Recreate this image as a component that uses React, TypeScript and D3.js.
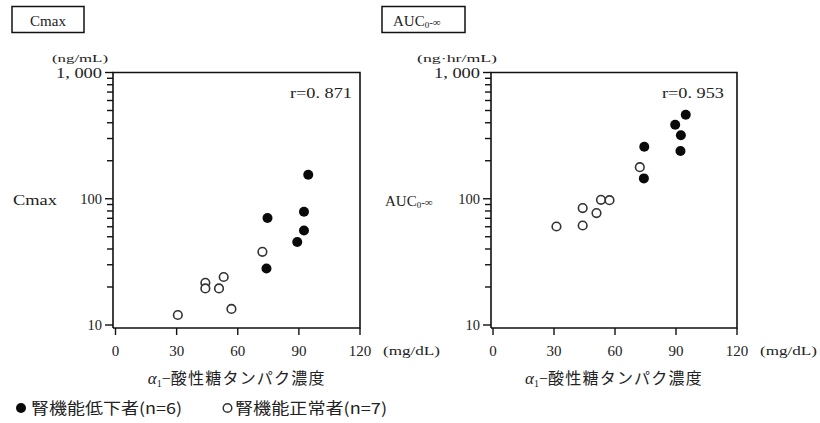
import React from "react";
import * as d3 from "d3";

// ---- data ----
const cmaxLowX = [94.6, 92.5, 74.6, 92.5, 89.2, 74.1];
const cmaxLowY = [155, 79, 70.5, 56, 45.5, 28];
const cmaxNormX = [72.1, 53.1, 44.1, 44.1, 50.8, 56.9, 30.6];
const cmaxNormY = [38, 24, 21.6, 19.5, 19.5, 13.4, 12];

const aucLowX = [94.8, 89.6, 92.4, 92.2, 74.4, 74.2];
const aucLowY = [463, 385, 318, 239, 258, 145];
const aucNormX = [72.2, 53.1, 57.3, 44.1, 50.9, 44.1, 31.2];
const aucNormY = [178, 98, 97.5, 84.4, 77, 61.4, 60.3];

const xTicks = [0, 30, 60, 90, 120];
const yMajorLabels: Record<number, string> = { 10: "10", 100: "100", 1000: "1, 000" };

const SERIF = "'Liberation Serif', 'DejaVu Serif', serif";
const CJK = "'Noto Sans CJK JP', sans-serif";
const INK = "#222";

type PanelProps = {
  axisX: number;
  x0: number;
  x1: number;
  lowX: number[];
  lowY: number[];
  normX: number[];
  normY: number[];
  r: string;
  rX: number;
  unit: string;
  unitX: number;
  unitW: number;
};

function Panel(p: PanelProps) {
  const top = 72.5;
  const bottomY = 325;
  const axisY = 328;
  const x = d3.scaleLinear().domain([0, 120]).range([p.x0, p.x1]);
  const y = d3.scaleLog().domain([10, 1000]).range([bottomY, top]);
  const yt = y.ticks();
  const right = p.x1;
  return (
    <g>
      {/* frame */}
      <path
        d={`M${p.axisX},${axisY} L${p.axisX},${top} L${right},${top} L${right},${axisY} L${p.axisX},${axisY}`}
        fill="none"
        stroke="#111"
        strokeWidth={1.6}
      />
      {/* y ticks */}
      {yt.map((t) => {
        const major = Math.abs(Math.log10(t) - Math.round(Math.log10(t))) < 1e-9;
        return (
          <line
            key={t}
            x1={p.axisX - (major ? 8 : 6)}
            x2={p.axisX}
            y1={y(t)}
            y2={y(t)}
            stroke="#111"
            strokeWidth={1.4}
          />
        );
      })}
      {yt
        .filter((t) => yMajorLabels[t])
        .map((t) => (
          <text
            key={"l" + t}
            x={p.axisX - 11}
            y={y(t) + 5}
            textAnchor="end"
            fontFamily={SERIF}
            fontSize={14.5}
            fill={INK}
            textLength={t === 1000 ? 46 : undefined}
            lengthAdjust="spacingAndGlyphs"
          >
            {yMajorLabels[t]}
          </text>
        ))}
      {/* x ticks */}
      {xTicks.map((t) => (
        <g key={"x" + t}>
          <line x1={x(t)} x2={x(t)} y1={axisY} y2={axisY + 7} stroke="#111" strokeWidth={1.4} />
          <text
            x={x(t)}
            y={356}
            textAnchor="middle"
            fontFamily={SERIF}
            fontSize={15}
            fill={INK}
          >
            {t}
          </text>
        </g>
      ))}
      <text
        x={p.x1 + 23}
        y={355}
        fontFamily={SERIF}
        fontSize={12}
        fill={INK}
        textLength={57}
        lengthAdjust="spacingAndGlyphs"
      >
        (mg/dL)
      </text>
      {/* unit */}
      <text
        x={p.unitX}
        y={62}
        fontFamily={SERIF}
        fontSize={11}
        fill={INK}
        textLength={p.unitW}
        lengthAdjust="spacingAndGlyphs"
      >
        {p.unit}
      </text>
      {/* r */}
      <text
        x={p.rX}
        y={98}
        fontFamily={SERIF}
        fontSize={15}
        fill={INK}
        textLength={62}
        lengthAdjust="spacingAndGlyphs"
      >
        {p.r}
      </text>
      {/* x title */}
      <text
        x={(p.x0 + p.x1) / 2 - 1}
        y={384}
        textAnchor="middle"
        fontFamily={CJK}
        fontSize={16}
        fill={INK}
      >
        <tspan fontFamily={SERIF} fontStyle="italic" fontSize={17}>α</tspan>
        <tspan fontFamily={SERIF} fontSize={10} dy={3}>1</tspan>
        <tspan fontFamily={SERIF} dy={-3}>−</tspan>
        <tspan letterSpacing={1.2}>酸性糖タンパク濃度</tspan>
      </text>
      {/* points */}
      {p.normX.map((v, i) => (
        <circle
          key={"n" + i}
          cx={x(v)}
          cy={y(p.normY[i])}
          r={4.3}
          fill="#fff"
          stroke="#333"
          strokeWidth={1.6}
        />
      ))}
      {p.lowX.map((v, i) => (
        <circle key={"f" + i} cx={x(v)} cy={y(p.lowY[i])} r={5} fill="#0a0a0a" />
      ))}
    </g>
  );
}

export default function App() {
  return (
    <svg
      width={820}
      height={423}
      style={{ position: "absolute", left: 0, top: 0, background: "#fff" }}
    >
      <rect x={0} y={0} width={820} height={423} fill="#fff" />
      {/* title boxes */}
      <rect x={12} y={6.5} width={72} height={26} fill="none" stroke="#111" strokeWidth={1.5} />
      <text x={48} y={26} textAnchor="middle" fontFamily={SERIF} fontSize={15} fill={INK}>
        Cmax
      </text>
      <rect x={382} y={6.5} width={83} height={26} fill="none" stroke="#111" strokeWidth={1.5} />
      <text x={393} y={26} fontFamily={SERIF} fontSize={15} fill={INK}>
        AUC<tspan fontSize={9} dy={2}>0</tspan>
        <tspan fontSize={11} dy={-2}>-∞</tspan>
      </text>

      {/* y titles */}
      <text
        x={13}
        y={205}
        fontFamily={SERIF}
        fontSize={15}
        fill={INK}
        textLength={44}
        lengthAdjust="spacingAndGlyphs"
      >
        Cmax
      </text>
      <text x={385} y={206} fontFamily={SERIF} fontSize={15} fill={INK}>
        AUC<tspan fontSize={9} dy={2}>0</tspan>
        <tspan fontSize={11} dy={-2}>-∞</tspan>
      </text>

      <Panel
        axisX={113}
        x0={115.5}
        x1={360}
        lowX={cmaxLowX}
        lowY={cmaxLowY}
        normX={cmaxNormX}
        normY={cmaxNormY}
        r="r=0. 871"
        rX={290}
        unit="(ng/mL)"
        unitX={52}
        unitW={56}
      />
      <Panel
        axisX={491}
        x0={493}
        x1={737}
        lowX={aucLowX}
        lowY={aucLowY}
        normX={aucNormX}
        normY={aucNormY}
        r="r=0. 953"
        rX={662}
        unit="(ng·hr/mL)"
        unitX={417}
        unitW={80}
      />

      {/* legend */}
      <circle cx={21} cy={408} r={5} fill="#0a0a0a" />
      <text
        x={31}
        y={413.5}
        fontFamily={CJK}
        fontSize={15.5}
        fill={INK}
        textLength={151}
        lengthAdjust="spacingAndGlyphs"
      >
        腎機能低下者(n=6)
      </text>
      <circle cx={227.5} cy={408} r={4.3} fill="#fff" stroke="#333" strokeWidth={1.5} />
      <text
        x={235}
        y={413.5}
        fontFamily={CJK}
        fontSize={15.5}
        fill={INK}
        textLength={152}
        lengthAdjust="spacingAndGlyphs"
      >
        腎機能正常者(n=7)
      </text>
    </svg>
  );
}
